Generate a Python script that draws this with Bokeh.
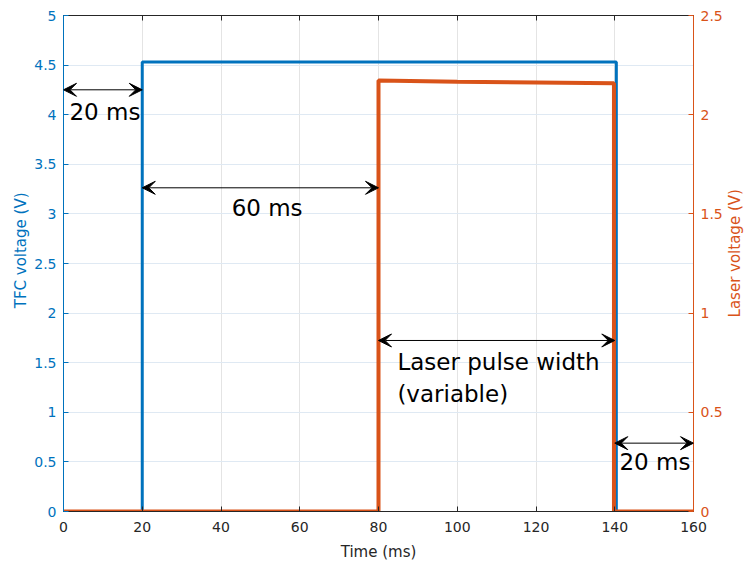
import math
from bokeh.plotting import figure
from bokeh.models import Range1d, LinearAxis, Arrow, VeeHead, Label, FixedTicker
from bokeh.embed import file_html
from bokeh.resources import INLINE

# ---- data ----
tfc_time = [0, 20, 20, 140.4, 140.4, 160]
tfc_volt = [0, 0, 4.53, 4.53, 0, 0]

laser_time = [0, 80, 80, 100, 120, 139.8, 139.8, 160]
laser_volt = [0, 0, 2.172, 2.166, 2.162, 2.158, 0, 0]

x_ticks = [0, 20, 40, 60, 80, 100, 120, 140, 160]
left_ticks = [0, 0.5, 1, 1.5, 2, 2.5, 3, 3.5, 4, 4.5, 5]
right_ticks = [0, 0.5, 1, 1.5, 2, 2.5]

# annotation arrows: (x start, x end, y on left axis)
arrow_spans = [(0, 20, 4.251), (20, 80, 3.263), (80, 140, 1.724), (140, 160, 0.689)]
# annotation texts: (text, x, y baseline on left axis)
notes = [("20 ms", 1.5, 4.03), ("60 ms", 42.7, 3.055),
         ("Laser pulse width", 84.8, 1.505), ("(variable)", 84.8, 1.18),
         ("20 ms", 141.2, 0.495)]

BLUE = "#0072BD"
ORANGE = "#D95319"
DARK = "#262626"
FONT = "DejaVu Sans"


def style_axis(ax, color, ticks):
    ax.ticker = FixedTicker(ticks=ticks)
    ax.axis_line_color = color
    ax.major_tick_line_color = color
    ax.major_tick_in = 5
    ax.major_tick_out = 0
    ax.minor_tick_line_color = None
    ax.major_label_text_color = color
    ax.major_label_text_font = FONT
    ax.major_label_text_font_size = "14px"
    ax.major_label_standoff = 7


def title_axis(text, color, anchor_y, standoff, y_range_name="default"):
    # an axis carrying only the rotated title, reading bottom-to-top
    ax = LinearAxis(y_range_name=y_range_name, ticker=FixedTicker(ticks=[anchor_y]))
    ax.major_label_overrides = {anchor_y: text}
    ax.major_label_orientation = math.pi / 2
    ax.axis_line_color = None
    ax.major_tick_line_color = None
    ax.minor_tick_line_color = None
    ax.major_tick_in = 0
    ax.major_tick_out = 0
    ax.major_label_text_color = color
    ax.major_label_text_font = FONT
    ax.major_label_text_font_size = "15px"
    ax.major_label_standoff = standoff
    return ax


p = figure(frame_width=630, frame_height=496,
           x_range=Range1d(0, 160), y_range=Range1d(0, 5),
           output_backend="svg", toolbar_location=None,
           min_border_left=63, min_border_right=51,
           min_border_top=15, min_border_bottom=55,
           background_fill_color="white", border_fill_color="white")
p.outline_line_color = DARK
p.extra_y_ranges = {"laser": Range1d(0, 2.5)}

# bottom axis
xa = p.xaxis[0]
style_axis(xa, DARK, x_ticks)
xa.major_label_standoff = 10
xa.axis_label = "Time (ms)"
xa.axis_label_text_font = FONT
xa.axis_label_text_font_size = "15px"
xa.axis_label_text_font_style = "normal"
xa.axis_label_text_color = DARK
xa.axis_label_standoff = 8

# left axis
ya = p.yaxis[0]
style_axis(ya, BLUE, left_ticks)
p.add_layout(title_axis("TFC voltage (V)", BLUE, 3.216, 10), "left")

# right axis
ra = LinearAxis(y_range_name="laser")
style_axis(ra, ORANGE, right_ticks)
p.add_layout(ra, "right")
p.add_layout(title_axis("Laser voltage (V)", ORANGE, 1.956, 10), "right")

# top box edge with ticks (no labels)
ta = LinearAxis()
style_axis(ta, DARK, x_ticks)
ta.major_label_overrides = {t: "" for t in x_ticks}
ta.major_label_standoff = 0
p.add_layout(ta, "above")

# grids
p.xgrid.ticker = FixedTicker(ticks=x_ticks)
p.xgrid.grid_line_color = "#e4e4e4"
p.ygrid.ticker = FixedTicker(ticks=left_ticks)
p.ygrid.grid_line_color = "#dfe9f3"

# series
p.line(tfc_time, tfc_volt, line_color=BLUE, line_width=3)
p.line(laser_time, laser_volt, y_range_name="laser", line_color=ORANGE, line_width=4)

# arrows
for x0, x1, yv in arrow_spans:
    p.add_layout(Arrow(x_start=x0, x_end=x1, y_start=yv, y_end=yv,
                       line_color="black", line_width=1,
                       start=VeeHead(size=13, fill_color="black", line_color="black"),
                       end=VeeHead(size=13, fill_color="black", line_color="black")))

for txt, xv, yv in notes:
    p.add_layout(Label(x=xv, y=yv, text=txt, text_font=FONT, text_font_size="23px",
                       text_color="black", text_align="left", text_baseline="alphabetic"))

open("out.html", "w").write(file_html(p, INLINE))
